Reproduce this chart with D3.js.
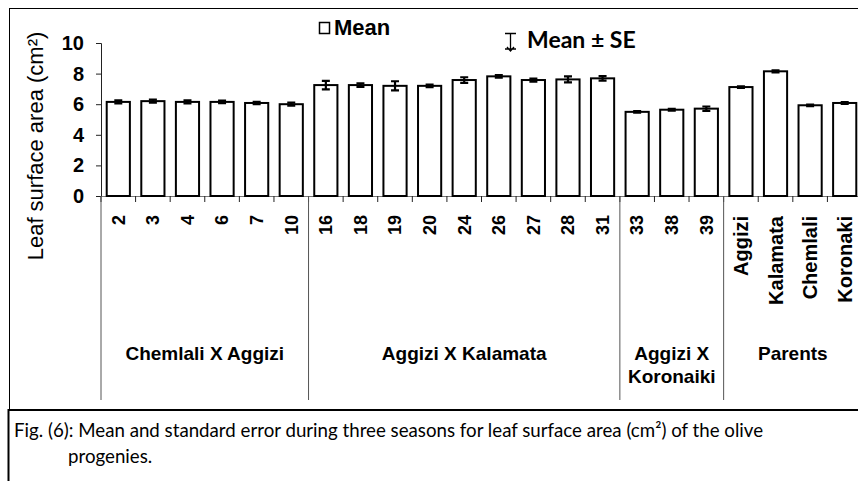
<!DOCTYPE html>
<html>
<head>
<meta charset="utf-8">
<script src="https://cdn.jsdelivr.net/npm/d3@7"></script>
<style>
  body { margin: 0; background: #fff; }
  svg { display: block; font-family: 'Liberation Sans', Arial, sans-serif; }
</style>
</head>
<body>
<svg></svg>
<script>
'use strict';

const svgWidth = 858;
const svgHeight = 481;

// data
const progenies = ['2', '3', '4', '6', '7', '10', '16', '18', '19', '20', '24', '26',
  '27', '28', '31', '33', '38', '39', 'Aggizi', 'Kalamata', 'Chemlali', 'Koronaki'];
const means = [6.15, 6.2, 6.15, 6.15, 6.08, 6.0, 7.25, 7.25, 7.2, 7.2, 7.58, 7.82,
  7.58, 7.62, 7.69, 5.5, 5.64, 5.71, 7.12, 8.15, 5.93, 6.08];
const ses = [0.1, 0.1, 0.1, 0.08, 0.08, 0.1, 0.28, 0.12, 0.3, 0.08, 0.18, 0.08,
  0.1, 0.2, 0.15, 0.05, 0.06, 0.14, 0.05, 0.07, 0.05, 0.06];
const groups = [
  { name: ['Chemlali X Aggizi'], first: '2', last: '10' },
  { name: ['Aggizi X Kalamata'], first: '16', last: '31' },
  { name: ['Aggizi X', 'Koronaiki'], first: '33', last: '39' },
  { name: ['Parents'], first: 'Aggizi', last: 'Koronaki' }
];
const parents = ['Aggizi', 'Kalamata', 'Chemlali', 'Koronaki'];
const yTicks = [0, 2, 4, 6, 8, 10];

const data = progenies.map((p, i) => ({ name: p, mean: means[i], se: ses[i] }));

const sans = "'Liberation Sans', Arial, sans-serif";
const calib = "Lato, 'Open Sans', sans-serif";

const svg = d3.select('svg')
  .attr('width', svgWidth)
  .attr('height', svgHeight);

const plot = { left: 101, right: 862, top: 43, bottom: 196 };

const x = d3.scaleBand()
  .domain(progenies)
  .range([plot.left, plot.right])
  .paddingInner(0.33)
  .paddingOuter(0.165);

const y = d3.scaleLinear()
  .domain([0, 10])
  .range([plot.bottom, plot.top]);

const edge = name => x(name) + x.bandwidth() / 2 - x.step() / 2;

// outer frame and caption box
svg.append('rect')
  .attr('x', 9.5).attr('y', 8.5)
  .attr('width', 880).attr('height', 402)
  .attr('fill', 'none')
  .attr('stroke', '#000');

svg.append('rect')
  .attr('x', 8.5).attr('y', 410)
  .attr('width', 880).attr('height', 90)
  .attr('fill', '#fff')
  .attr('stroke', '#000')
  .attr('stroke-width', 2);

// y axis
const yAxis = svg.append('g')
  .attr('transform', `translate(${plot.left}, 0)`)
  .call(d3.axisLeft(y).tickValues(yTicks).tickSize(5).tickPadding(12));
yAxis.select('.domain').attr('stroke', '#222');
yAxis.selectAll('.tick line').attr('stroke', '#222');
yAxis.selectAll('text')
  .attr('font-size', 20)
  .attr('font-weight', 'bold')
  .attr('font-family', sans)
  .attr('fill', '#000');

svg.append('text')
  .attr('transform', 'translate(43, 146) rotate(-90)')
  .attr('text-anchor', 'middle')
  .attr('font-family', sans)
  .attr('font-size', 22)
  .text('Leaf surface area (cm²)');

// x axis line and boundary ticks
svg.append('line')
  .attr('x1', plot.left).attr('x2', plot.right)
  .attr('y1', plot.bottom + 0.5).attr('y2', plot.bottom + 0.5)
  .attr('stroke', '#777');

svg.append('g')
  .selectAll('line')
  .data(progenies.concat(['__end']))
  .join('line')
  .attr('x1', d => d === '__end' ? plot.right : edge(d))
  .attr('x2', d => d === '__end' ? plot.right : edge(d))
  .attr('y1', plot.bottom)
  .attr('y2', plot.bottom + 6)
  .attr('stroke', '#222');

// x tick labels
svg.append('g')
  .selectAll('text')
  .data(progenies)
  .join('text')
  .attr('transform', d => `translate(${x(d) + x.bandwidth() / 2}, ${parents.includes(d) ? 216 : 215}) rotate(-90)`)
  .attr('text-anchor', 'end')
  .attr('dy', '0.35em')
  .attr('font-family', sans)
  .attr('font-size', d => parents.includes(d) ? 20 : 18)
  .attr('font-weight', 'bold')
  .text(d => d);

// group separators and labels
svg.append('g')
  .selectAll('line')
  .data(groups)
  .join('line')
  .attr('x1', (g, i) => i === 0 ? plot.left : edge(g.first))
  .attr('x2', (g, i) => i === 0 ? plot.left : edge(g.first))
  .attr('y1', plot.bottom)
  .attr('y2', 400)
  .attr('stroke', '#555');

groups.forEach(g => {
  const cx = (edge(g.first) + edge(g.last) + x.step()) / 2;
  const t = svg.append('text')
    .attr('x', cx)
    .attr('y', 360)
    .attr('text-anchor', 'middle')
    .attr('font-family', sans)
    .attr('font-size', 19)
    .attr('font-weight', 'bold');
  g.name.forEach((line, i) => {
    t.append('tspan')
      .attr('x', cx)
      .attr('dy', i === 0 ? 0 : 23)
      .text(line);
  });
});

// bars
svg.append('g')
  .selectAll('rect')
  .data(data)
  .join('rect')
  .attr('x', d => x(d.name))
  .attr('y', d => y(d.mean))
  .attr('width', x.bandwidth())
  .attr('height', d => y(0) - y(d.mean))
  .attr('fill', '#fff')
  .attr('stroke', '#000')
  .attr('stroke-width', 2);

// error bars
const capW = 4;
svg.append('g')
  .attr('stroke', '#000')
  .attr('stroke-width', 2.2)
  .selectAll('path')
  .data(data)
  .join('path')
  .attr('fill', 'none')
  .attr('d', d => {
    const cx = x(d.name) + x.bandwidth() / 2;
    const y1 = y(d.mean + d.se);
    const y2 = y(d.mean - d.se);
    return `M${cx - capW},${y1}H${cx + capW}M${cx},${y1}V${y2}M${cx - capW},${y2}H${cx + capW}`;
  });

// legend
svg.append('rect')
  .attr('x', 319.5).attr('y', 22.5)
  .attr('width', 10).attr('height', 11)
  .attr('fill', '#fff')
  .attr('stroke', '#000')
  .attr('stroke-width', 1.5);

svg.append('text')
  .attr('x', 334).attr('y', 35)
  .attr('font-family', sans)
  .attr('font-size', 22)
  .attr('font-weight', 'bold')
  .text('Mean');

svg.append('path')
  .attr('d', 'M505,33.5H516M510.5,33.5V49M505,49H516M507,47L510.5,51L514,47')
  .attr('fill', 'none')
  .attr('stroke', '#000')
  .attr('stroke-width', 1.3);

svg.append('text')
  .attr('x', 527).attr('y', 48)
  .attr('font-family', calib)
  .attr('font-size', 23)
  .attr('font-weight', 'bold')
  .text('Mean ± SE');

// caption
const caption = svg.append('g')
  .attr('font-family', calib)
  .attr('font-size', 18.7)
  .attr('fill', '#000');

caption.append('text')
  .attr('x', 14).attr('y', 437)
  .text('Fig. (6): Mean and standard error during three seasons for leaf surface area (cm²) of the olive');

caption.append('text')
  .attr('x', 68).attr('y', 463)
  .text('progenies.');
</script>
</body>
</html>
